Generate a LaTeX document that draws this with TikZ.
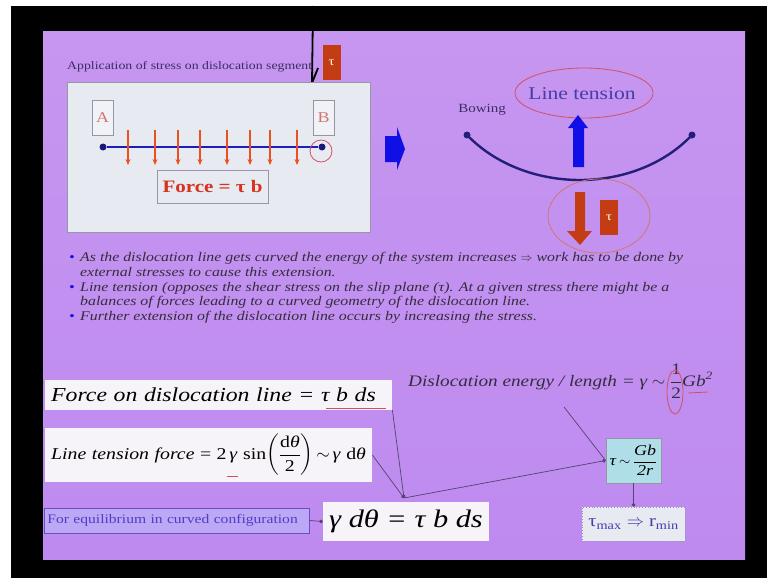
\documentclass[tikz,border=0pt]{standalone}
\usepackage{fontspec}
\setmainfont[FakeStretch=1.2]{Liberation Serif}
\usepackage{amsmath}
\usetikzlibrary{arrows.meta,positioning}
\definecolor{slidetop}{RGB}{198,150,240}
\definecolor{slidemid}{RGB}{242,238,250}
\definecolor{slidebot}{RGB}{190,138,240}
\definecolor{panelfill}{RGB}{232,234,242}
\definecolor{boxgray}{RGB}{150,150,165}
\definecolor{lettered}{RGB}{205,120,110}
\definecolor{lineblue}{RGB}{30,30,190}
\definecolor{dotnavy}{RGB}{25,25,120}
\definecolor{pushred}{RGB}{235,80,30}
\definecolor{forcered}{RGB}{215,50,30}
\definecolor{arrowblue}{RGB}{15,15,230}
\definecolor{curvenavy}{RGB}{35,30,120}
\definecolor{tensionink}{RGB}{70,60,170}
\definecolor{ringred}{RGB}{210,80,100}
\definecolor{chipred}{RGB}{195,60,20}
\definecolor{titleink}{RGB}{60,45,100}
\definecolor{noteink}{RGB}{50,45,60}
\definecolor{formfill}{RGB}{246,244,248}
\definecolor{eqfill}{RGB}{188,168,245}
\definecolor{eqline}{RGB}{100,80,200}
\definecolor{eqink}{RGB}{80,60,200}
\definecolor{gbfill}{RGB}{175,222,232}
\definecolor{linkgray}{RGB}{80,70,110}
\tikzset{
	panel/.style={draw=boxgray, fill=panelfill, line width=0.9pt, inner sep=0pt},
	letterbox/.style={
		draw=boxgray, fill=panelfill!60!white, line width=0.9pt,
		minimum width=21pt, minimum height=35pt, inner sep=0pt,
		text=lettered, font=\fontsize{15}{15}\selectfont
	},
	tauchip/.style={
		fill=chipred, text=white, minimum width=18pt, minimum height=35pt,
		inner sep=0pt, font=\fontsize{12}{12}\selectfont
	},
	enddot/.style={circle, fill=dotnavy, inner sep=0pt, minimum size=7pt},
	dislo/.style={line width=2.4pt},
	push/.style={-{Stealth[length=6pt,width=5pt]}, pushred, line width=1.3pt},
	ring/.style={draw=ringred, line width=0.8pt},
	formula/.style={fill=formfill, inner xsep=6pt, inner ysep=0pt, align=left},
	link/.style={draw=linkgray, line width=0.7pt},
	dotlink/.style={link, -{Circle[length=3.5pt]}}
}
\begin{document}
\begin{tikzpicture}[x=1pt,y=-1pt]
	\useasboundingbox (0,0) rectangle (767,578);
	\fill[black] (11,6) rectangle (767,578);
	\shade[top color=slidetop, middle color=slidemid, bottom color=slidebot] (43,32) rectangle (745,559);
	% top left panel
	\node[anchor=west, inner xsep=0pt, text=titleink, font=\fontsize{11.5}{11.5}\selectfont] (title) at (67,67) {Application of stress on dislocation segment};
	\draw[line width=1.8pt] (313,6) -- (312,83) -- (318,68);
	\node[tauchip] (tauA) at (331.5,62.5) {τ};
	\node[panel, minimum width=303pt, minimum height=150pt] (seg) at (218.5,157) {};
	\node[letterbox] (A) at (102.5,117.5) {A};
	\node[letterbox] (B) at (323.5,117.5) {B};
	\node[enddot] (dA) at (103,147) {};
	\node[enddot] (dB) at (322,147) {};
	\draw[dislo, lineblue] (dA) -- (dB);
	\draw[ring] (321,151) circle (11);
	\foreach \x in {128,155,178,200,227,250,270,297}
		\draw[push] (\x,130) -- (\x,165);
	\node[panel, minimum width=111pt, minimum height=33pt, text=forcered,
		font=\bfseries\fontsize{17.5}{17.5}\selectfont] (force) at (212.5,186.5) {Force = τ b};
	% block arrow to the bowed line
	\fill[arrowblue] (385,136) -- (397,136) -- (397,127) -- (405,149) -- (397,170) -- (397,162) -- (385,162) -- cycle;
	% bowed segment
	\node[text=titleink, font=\fontsize{12.5}{12.5}\selectfont] (bow) at (482,110) {Bowing};
	\node[enddot, fill=curvenavy] (bL) at (467,135) {};
	\node[enddot, fill=curvenavy] (bR) at (692,135) {};
	\draw[dislo, curvenavy] (bL.center) .. controls (525,195) and (635,195) .. (bR.center);
	\node[text=tensionink, font=\fontsize{18}{18}\selectfont] (tension) at (582,94) {Line tension};
	\draw[ring] (584,93) ellipse (69 and 25);
	\fill[arrowblue] (573,167) -- (573,128) -- (568,128) -- (578,115) -- (588,128) -- (584,128) -- (584,167) -- cycle;
	\fill[chipred] (575,192) -- (585,192) -- (585,231) -- (592,231) -- (580,245) -- (567,231) -- (575,231) -- cycle;
	\node[tauchip] (tauB) at (609,217.5) {τ};
	\draw[ring, draw=lettered] (599,216) ellipse (51 and 37);
	% notes
	\node[anchor=north west, inner sep=0pt, align=left, text=noteink,
		font=\itshape\fontsize{13.2}{14.8}\selectfont] (notes) at (69,252) {%
		\makebox[11pt][l]{\textcolor{arrowblue}{\textbullet}}As the dislocation line gets curved the energy of the system increases $\Rightarrow$ work has to be done by\\
		\hspace*{11pt}external stresses to cause this extension.\\
		\makebox[11pt][l]{\textcolor{arrowblue}{\textbullet}}Line tension (opposes the shear stress on the slip plane (τ). At a given stress there might be a\\
		\hspace*{11pt}balances of forces leading to a curved geometry of the dislocation line.\\
		\makebox[11pt][l]{\textcolor{arrowblue}{\textbullet}}Further extension of the dislocation line occurs by increasing the stress.};
	% formulas
	\node[formula, anchor=west, text width=335pt, minimum height=30pt,
		font=\itshape\fontsize{19.8}{19.8}\selectfont] (fdl) at (45,395) {Force on dislocation line = τ b ds};
	\draw[ringred, line width=0.8pt] (326,408) -- (386,408);
	\node[anchor=west, inner xsep=0pt, text=noteink, font=\itshape\fontsize{16}{16}\selectfont] (den) at (408,381)
		{Dislocation energy / length = γ $\sim$ $\dfrac{\textup{1}}{\textup{2}}$Gb\textsuperscript{2}};
	\draw[ringred, line width=0.8pt] (675,392) ellipse (8 and 22);
	\draw[ringred, line width=0.8pt] (688,393) -- (708,392);
	\node[formula, anchor=west, text width=315pt, minimum height=54pt,
		font=\fontsize{16.5}{16.5}\selectfont] (ltf) at (45,455)
		{\textit{Line tension force} = 2\,\textit{γ} sin$\left(\dfrac{\textup{d}\textit{θ}}{\textup{2}}\right)$\,$\sim$\,\textit{γ} d\textit{θ}};
	\draw[ringred, line width=0.8pt] (227,476) -- (238,476);
	\node[anchor=west, draw=eqline, fill=eqfill, line width=0.8pt, text width=259pt, minimum height=25pt,
		inner xsep=3pt, align=left, text=eqink, font=\fontsize{13}{13}\selectfont] (equil) at (44,520.5)
		{For equilibrium in curved configuration};
	\node[formula, minimum width=166pt, minimum height=39pt, align=center,
		font=\itshape\fontsize{25.3}{25.3}\selectfont] (balance) at (406,521.5) {γ dθ = τ b ds};
	\coordinate (jn) at (404,498);
	\node[draw=boxgray, fill=gbfill, line width=0.8pt, minimum width=55pt, minimum height=45pt, inner sep=1pt,
		font=\fontsize{15}{15}\selectfont] (gb) at (633.5,460.5) {\textit{τ}\,$\sim$\,$\dfrac{\textit{Gb}}{\textit{2r}}$};
	\node[draw=boxgray, dotted, fill=panelfill, line width=0.8pt, minimum width=103pt, minimum height=34pt,
		text=tensionink, font=\fontsize{17}{17}\selectfont] (tmax) at (633.5,524)
		{τ\textsubscript{max} $\Rightarrow$ r\textsubscript{min}};
	\coordinate (denfoot) at (564,407);
	% links
	\draw[dotlink] (equil.east) -- (balance.west);
	\draw[dotlink] (fdl.south east) -- (jn);
	\draw[dotlink] (ltf.east) -- (jn);
	\draw[dotlink] (jn) -- (gb.west);
	\draw[link] (denfoot) -- (gb.west);
	\draw[dotlink] (gb.south) -- (tmax.north);
\end{tikzpicture}
\end{document}
